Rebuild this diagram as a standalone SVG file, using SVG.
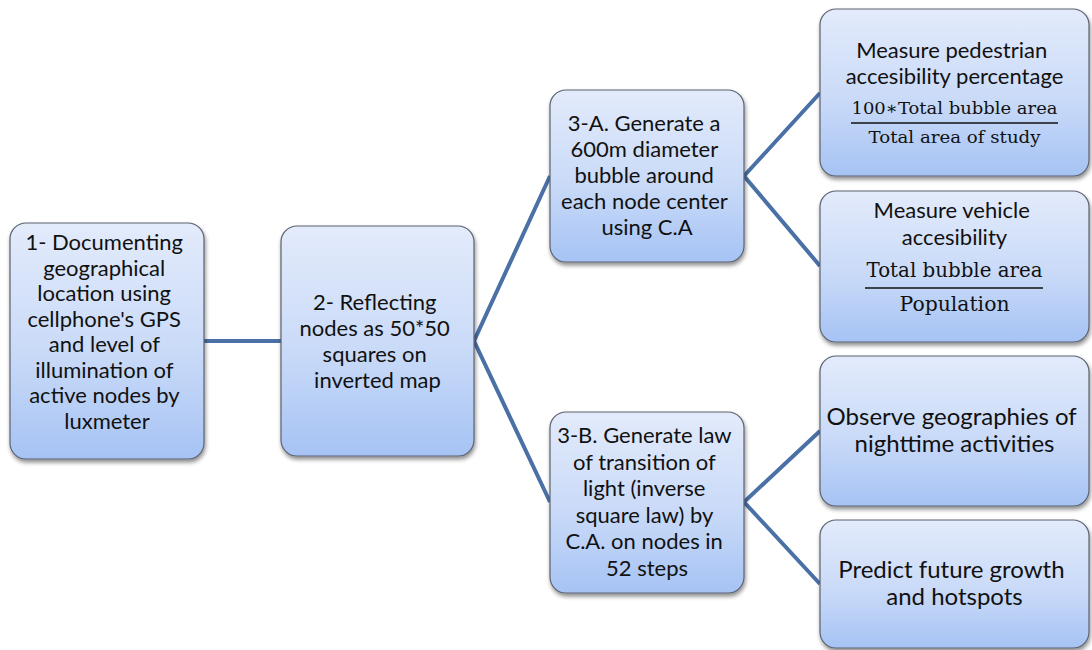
<svg xmlns="http://www.w3.org/2000/svg" width="1092" height="650" viewBox="0 0 1092 650">
  <defs>
    <linearGradient id="boxFill" x1="0" y1="0" x2="0" y2="1">
      <stop offset="0" stop-color="#e3ebfb"/>
      <stop offset="0.55" stop-color="#c9daf8"/>
      <stop offset="1" stop-color="#a6c3f4"/>
    </linearGradient>
    <filter id="shadow" x="-10%" y="-10%" width="125%" height="125%">
      <feGaussianBlur in="SourceAlpha" stdDeviation="2"/>
      <feOffset dx="1" dy="3" result="b"/>
      <feComponentTransfer><feFuncA type="linear" slope="0.45"/></feComponentTransfer>
      <feMerge><feMergeNode/><feMergeNode in="SourceGraphic"/></feMerge>
    </filter>
  </defs>
  <style>
    .box { fill: url(#boxFill); stroke: #5b6270; stroke-width: 1.2; filter: url(#shadow); }
    .lbl { font-family: Lato, "Open Sans", sans-serif; font-size: 22px; fill: #111; text-anchor: middle; }
    .big { font-size: 24px; }
    .math { font-family: "DejaVu Serif", "Liberation Serif", serif; fill: #111; text-anchor: middle; }
    .bar { stroke: #111; stroke-width: 1.4; }
    .conn { stroke: #4a70a6; stroke-width: 4; fill: none; stroke-linejoin: miter; }
  </style>

  <g id="connectors">
    <line class="conn" x1="204" y1="341" x2="281" y2="341"/>
    <polyline class="conn" points="550,176 474,341 550,502"/>
    <polyline class="conn" points="820,93 744,176 820,266"/>
    <polyline class="conn" points="820,431 744,502 820,584"/>
  </g>

  <g id="node-1">
    <rect class="box" x="10" y="223" width="194" height="236" rx="16"/>
    <text class="lbl">
      <tspan x="107" y="250">1- Documenting</tspan>
      <tspan x="107" y="275.5">geographical</tspan>
      <tspan x="107" y="301">location using</tspan>
      <tspan x="107" y="326.5">cellphone's GPS</tspan>
      <tspan x="107" y="352">and level of</tspan>
      <tspan x="107" y="377.5">illumination of</tspan>
      <tspan x="107" y="403">active nodes by</tspan>
      <tspan x="107" y="428.5">luxmeter</tspan>
    </text>
  </g>

  <g id="node-2">
    <rect class="box" x="281" y="226" width="193" height="230" rx="16"/>
    <text class="lbl">
      <tspan x="377.5" y="310">2- Reflecting</tspan>
      <tspan x="377.5" y="336">nodes as 50*50</tspan>
      <tspan x="377.5" y="362">squares on</tspan>
      <tspan x="377.5" y="388">inverted map</tspan>
    </text>
  </g>

  <g id="node-3a">
    <rect class="box" x="550" y="90" width="194" height="172" rx="16"/>
    <text class="lbl">
      <tspan x="647" y="131">3-A. Generate a</tspan>
      <tspan x="647" y="157">600m diameter</tspan>
      <tspan x="647" y="183">bubble around</tspan>
      <tspan x="647" y="209">each node center</tspan>
      <tspan x="647" y="235">using C.A</tspan>
    </text>
  </g>

  <g id="node-3b">
    <rect class="box" x="550" y="412" width="194" height="181" rx="16"/>
    <text class="lbl">
      <tspan x="647" y="443">3-B. Generate law</tspan>
      <tspan x="647" y="469.5">of transition of</tspan>
      <tspan x="647" y="496">light (inverse</tspan>
      <tspan x="647" y="522.5">square law) by</tspan>
      <tspan x="647" y="549">C.A. on nodes in</tspan>
      <tspan x="647" y="575.5">52 steps</tspan>
    </text>
  </g>

  <g id="node-pedestrian">
    <rect class="box" x="820" y="9" width="269" height="167" rx="16"/>
    <text class="lbl">
      <tspan x="954.5" y="58">Measure pedestrian</tspan>
      <tspan x="954.5" y="84">accesibility percentage</tspan>
    </text>
    <text class="math" x="954.5" y="114" font-size="17.5" textLength="206" lengthAdjust="spacingAndGlyphs">100∗Total bubble area</text>
    <line class="bar" x1="851" y1="123" x2="1058" y2="123"/>
    <text class="math" x="954.5" y="143" font-size="17.5" textLength="172" lengthAdjust="spacingAndGlyphs">Total area of study</text>
  </g>

  <g id="node-vehicle">
    <rect class="box" x="820" y="191" width="269" height="151" rx="16"/>
    <text class="lbl">
      <tspan x="954.5" y="218">Measure vehicle</tspan>
      <tspan x="954.5" y="245">accesibility</tspan>
    </text>
    <text class="math" x="954.5" y="277" font-size="20" textLength="176" lengthAdjust="spacingAndGlyphs">Total bubble area</text>
    <line class="bar" x1="865" y1="288" x2="1043" y2="288"/>
    <text class="math" x="954.5" y="311" font-size="20" textLength="110" lengthAdjust="spacingAndGlyphs">Population</text>
  </g>

  <g id="node-observe">
    <rect class="box" x="820" y="356" width="269" height="150" rx="16"/>
    <text class="lbl big">
      <tspan x="954.5" y="425">Observe geographies of</tspan>
      <tspan x="954.5" y="452">nighttime activities</tspan>
    </text>
  </g>

  <g id="node-predict">
    <rect class="box" x="820" y="520" width="269" height="128" rx="16"/>
    <text class="lbl big">
      <tspan x="954.5" y="578">Predict future growth</tspan>
      <tspan x="954.5" y="605">and hotspots</tspan>
    </text>
  </g>
</svg>
